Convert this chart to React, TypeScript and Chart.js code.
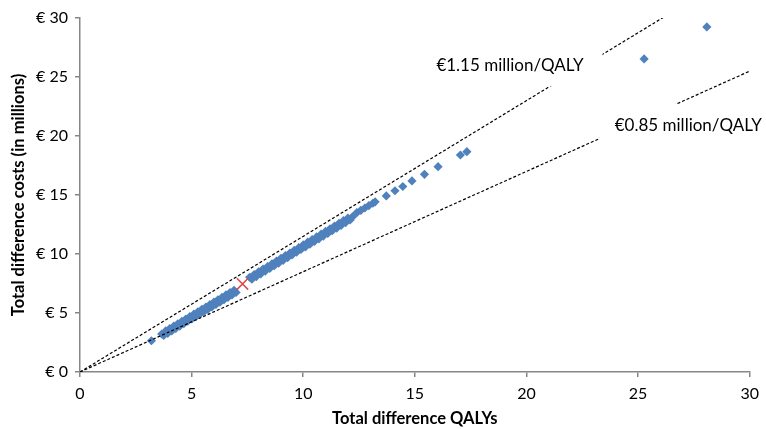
import React, { useEffect, useRef } from "react";
import { Chart, registerables } from "chart.js";

Chart.register(...registerables);

// ---- Data ----
// Total difference QALYs of each simulation
const simQalys: number[] = [
  3.2,
  3.66, 3.75, 3.84, 3.93, 4.02, 4.11, 4.2, 4.29, 4.38, 4.47, 4.56, 4.65, 4.74, 4.83, 4.92, 5.01, 5.1, 5.19, 5.28,
  5.37, 5.46, 5.55, 5.64, 5.73, 5.82, 5.91, 6.0, 6.09, 6.18, 6.27, 6.36, 6.45, 6.54, 6.63, 6.72, 6.81, 6.9, 6.99,
  7.6, 7.7, 7.8, 7.9, 8.0, 8.1, 8.2, 8.3, 8.4, 8.5, 8.6, 8.7, 8.8, 8.9, 9.0, 9.1, 9.2, 9.3, 9.4, 9.5, 9.6, 9.7,
  9.8, 9.9, 10.0, 10.1, 10.2, 10.3, 10.4, 10.5, 10.6, 10.7, 10.8, 10.9, 11.0, 11.1, 11.2, 11.3, 11.4, 11.5, 11.6,
  11.7, 11.8, 11.9, 12.0, 12.1, 12.2,
  12.4, 12.58, 12.76, 12.94, 13.12, 13.22,
  13.72, 14.11, 14.46, 14.87, 15.43, 16.04, 17.04, 17.33, 25.27, 28.08,
];
// Total difference costs (in millions of euro) of each simulation
const simCosts: number[] = [
  2.65,
  3.22, 3.1, 3.48, 3.28, 3.68, 3.48, 3.88, 3.69, 4.09, 3.89, 4.29, 4.09, 4.49, 4.3, 4.7, 4.5, 4.9, 4.7, 5.1,
  4.91, 5.31, 5.11, 5.51, 5.31, 5.71, 5.52, 5.92, 5.72, 6.12, 5.92, 6.32, 6.13, 6.53, 6.33, 6.73, 6.53, 6.93, 6.74,
  8.03, 7.87, 8.26, 8.09, 8.49, 8.32, 8.72, 8.55, 8.94, 8.78, 9.17, 9.01, 9.4, 9.23, 9.63, 9.46, 9.86, 9.69, 10.08,
  9.92, 10.31, 10.15, 10.54, 10.38, 10.77, 10.6, 11.0, 10.83, 11.23, 11.06, 11.45, 11.29, 11.68, 11.52, 11.91,
  11.74, 12.14, 11.97, 12.37, 12.2, 12.59, 12.43, 12.82, 12.66, 13.05, 12.88, 13.14,
  13.5, 13.7, 13.9, 14.1, 14.3, 14.42,
  14.92, 15.36, 15.72, 16.19, 16.75, 17.4, 18.39, 18.67, 26.53, 29.24,
];
// Base case
const baseQaly: number[] = [7.28];
const baseCost: number[] = [7.46];

// Willingness-to-pay threshold lines (million euro per QALY)
const wtpThresholds: number[] = [1.15, 0.85];
const wtpLabels: string[] = ["€1.15 million/QALY", "€0.85 million/QALY"];
const wtpLabelX: number[] = [19.26, 27.25];
const wtpLabelY: number[] = [26.0, 20.93];

// Axis ticks
const xTickLabels: string[] = ["0", "5", "10", "15", "20", "25", "30"];
const yTickLabels: string[] = ["€ 0", "€ 5", "€ 10", "€ 15", "€ 20", "€ 25", "€ 30"];

const FONT = "Lato";
const AXIS_GREY = "#868686";

const labelPlugin = {
  id: "wtpLabels",
  afterDatasetsDraw(chart: any) {
    const { ctx, scales } = chart;
    const x = scales.x;
    const y = scales.y;
    ctx.save();
    ctx.font = `17px ${FONT}`;
    ctx.textBaseline = "middle";
    ctx.textAlign = "center";
    wtpLabels.forEach((txt, i) => {
      const cx = x.getPixelForValue(wtpLabelX[i]);
      const cy = y.getPixelForValue(wtpLabelY[i]);
      const w = ctx.measureText(txt).width;
      ctx.fillStyle = "#ffffff";
      ctx.fillRect(cx - w / 2 - 15, cy - 21, w + 34, 42);
      ctx.fillStyle = "#000000";
      ctx.fillText(txt, cx, cy);
    });
    ctx.restore();
  },
};

export default function App() {
  const canvasRef = useRef<HTMLCanvasElement | null>(null);

  useEffect(() => {
    if (!canvasRef.current) return;
    const points = simQalys.map((q, i) => ({ x: q, y: simCosts[i] }));
    const base = baseQaly.map((q, i) => ({ x: q, y: baseCost[i] }));
    const lines = wtpThresholds.map((t) => [
      { x: 0, y: 0 },
      { x: 30, y: 30 * t },
    ]);

    const chart = new Chart(canvasRef.current, {
      type: "scatter",
      data: {
        datasets: [
          ...lines.map((d, i) => ({
            type: "line" as const,
            label: wtpLabels[i],
            data: d,
            showLine: true,
            borderColor: "#000000",
            borderWidth: 1.2,
            borderDash: [3, 2],
            pointRadius: 0,
            fill: false,
            order: 0,
          })),
          {
            label: "Base case",
            data: base,
            pointStyle: "crossRot",
            pointRadius: 8,
            borderColor: "#E0474C",
            backgroundColor: "#E0474C",
            borderWidth: 1.5,
            order: 1,
          },
          {
            label: "Simulations",
            data: points,
            pointStyle: "rectRot",
            pointRadius: 4.6,
            backgroundColor: "#4F81BD",
            borderColor: "#4F81BD",
            borderWidth: 0,
            order: 2,
          },
        ],
      },
      options: {
        responsive: false,
        animation: false,
        layout: { padding: { top: 18, right: 14, left: 0, bottom: 0 } },
        plugins: {
          legend: { display: false },
          tooltip: { enabled: false },
        },
        scales: {
          x: {
            type: "linear",
            min: 0,
            max: 30,
            afterFit: (s: any) => {
              s.height = 57;
            },
            ticks: {
              stepSize: 5,
              color: "#000000",
              padding: 7,
              font: { family: FONT, size: 16 },
              callback: (_v: any, i: number) => xTickLabels[i],
            },
            grid: {
              display: true,
              drawOnChartArea: false,
              drawTicks: true,
              tickLength: 5,
              color: AXIS_GREY,
              lineWidth: 1.5,
            },
            border: { display: true, color: AXIS_GREY, width: 1.5 },
            title: {
              display: true,
              text: "Total difference QALYs",
              color: "#000000",
              font: { family: FONT, size: 16.5, weight: "bold" },
              padding: { top: 0, bottom: 0 },
            },
          },
          y: {
            type: "linear",
            min: 0,
            max: 30,
            afterFit: (s: any) => {
              s.width = 80;
            },
            ticks: {
              stepSize: 5,
              color: "#000000",
              padding: 7,
              font: { family: FONT, size: 16 },
              callback: (_v: any, i: number) => yTickLabels[i],
            },
            grid: {
              display: true,
              drawOnChartArea: false,
              drawTicks: true,
              tickLength: 5,
              color: AXIS_GREY,
              lineWidth: 1.5,
            },
            border: { display: true, color: AXIS_GREY, width: 1.5 },
            title: {
              display: true,
              text: "Total difference costs (in millions)",
              color: "#000000",
              font: { family: FONT, size: 16.5, weight: "bold" },
              padding: { top: 9, bottom: 0 },
            },
          },
        },
      },
      plugins: [labelPlugin],
    } as any);

    return () => {
      chart.destroy();
    };
  }, []);

  return (
    <div style={{ position: "fixed", left: 0, top: 0, width: 766, height: 429, background: "#ffffff" }}>
      <canvas ref={canvasRef} width={766} height={429} style={{ display: "block" }} />
    </div>
  );
}
